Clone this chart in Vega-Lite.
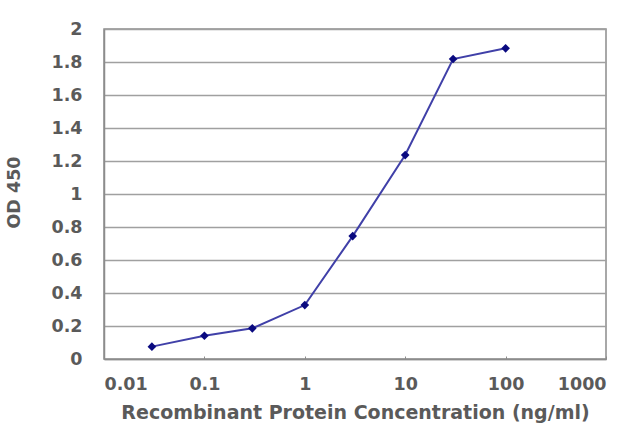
{
  "$schema": "https://vega.github.io/schema/vega-lite/v6.json",
  "autosize": {"type": "none"},
  "padding": {"left": 104, "top": 29, "right": 34, "bottom": 68},
  "width": 502,
  "height": 330,
  "background": "white",
  "config": {
    "view": {"stroke": "#8c8c8c", "strokeWidth": 1.5},
    "axis": {
      "labelFont": "DejaVu Sans",
      "labelFontSize": 17.5,
      "labelFontWeight": "bold",
      "labelColor": "#5a5a5a",
      "titleFont": "DejaVu Sans",
      "titleFontSize": 19,
      "titleFontWeight": "bold",
      "titleColor": "#5a5a5a",
      "domainColor": "#8c8c8c",
      "domainWidth": 1.5,
      "gridColor": "#a0a0a0",
      "gridWidth": 1.6
    }
  },
  "data": {
    "values": [
      {"conc": 0.03, "od": 0.075},
      {"conc": 0.1, "od": 0.141},
      {"conc": 0.3, "od": 0.186},
      {"conc": 1, "od": 0.327},
      {"conc": 3, "od": 0.745},
      {"conc": 10, "od": 1.236},
      {"conc": 30, "od": 1.818},
      {"conc": 100, "od": 1.883}
    ]
  },
  "encoding": {
    "x": {
      "field": "conc",
      "type": "quantitative",
      "scale": {"type": "log", "domain": [0.01, 1000], "nice": false},
      "axis": {
        "values": [0.01, 0.1, 1, 10, 100, 1000],
        "format": "~g",
        "grid": false,
        "tickSize": -3,
        "tickColor": "#8c8c8c",
        "labelPadding": 19,
        "title": "Recombinant Protein Concentration (ng/ml)",
        "titleBaseline": "middle",
        "titleY": 53
      }
    },
    "y": {
      "field": "od",
      "type": "quantitative",
      "scale": {"domain": [0, 2], "nice": false},
      "axis": {
        "values": [0, 0.2, 0.4, 0.6, 0.8, 1, 1.2, 1.4, 1.6, 1.8, 2],
        "format": "~g",
        "ticks": false,
        "labelPadding": 22,
        "title": "OD 450",
        "titleFontSize": 17.5,
        "titleX": -90,
        "titleY": 163,
        "titleBaseline": "middle"
      }
    }
  },
  "layer": [
    {"mark": {"type": "line", "color": "#4040a8", "strokeWidth": 2}},
    {"mark": {"type": "point", "shape": "diamond", "filled": true, "color": "#0a0a80", "size": 75, "opacity": 1}}
  ]
}
